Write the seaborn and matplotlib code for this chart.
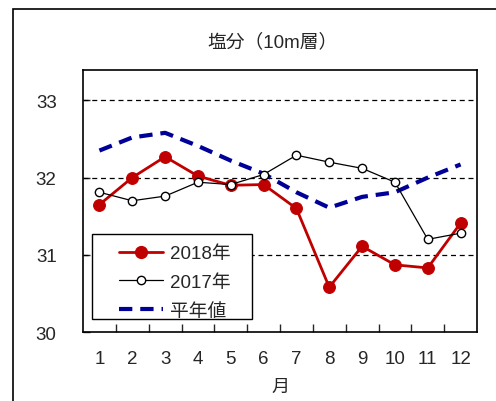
import numpy as np
import pandas as pd
import seaborn as sns
import matplotlib.pyplot as plt
from matplotlib.patches import Rectangle
from matplotlib.lines import Line2D

# data
months = list(range(1, 13))
month_labels = [str(m) for m in months]
salt_2018 = [31.65, 32.00, 32.27, 32.02, 31.90, 31.91, 31.60, 30.58, 31.11, 30.87, 30.83, 31.41]
salt_2017 = [31.81, 31.70, 31.76, 31.94, 31.91, 32.04, 32.29, 32.20, 32.12, 31.94, 31.20, 31.28]
salt_normal = [32.35, 32.52, 32.58, 32.41, 32.22, 32.05, 31.81, 31.61, 31.75, 31.81, 32.00, 32.17]
series_names = ['2018年', '2017年', '平年値']
y_ticks = [30, 31, 32, 33]

df = pd.DataFrame({'月': months, '2018年': salt_2018, '2017年': salt_2017, '平年値': salt_normal})

sns.set_style('white')
plt.rcParams['font.family'] = ['Liberation Sans', 'Noto Sans CJK JP']

fig = plt.figure(figsize=(4.96, 4.02), dpi=100)
ax = fig.add_axes([83 / 496, 1 - 333 / 402, 394 / 496, 262.5 / 402])

# outer frame (cut off at right and bottom in the reference)
fig.patches.append(Rectangle((13 / 496, -0.1), 2, (392 / 402) + 0.1, transform=fig.transFigure,
                             fill=False, lw=1.2, edgecolor='black'))

# dashed gridlines
for yv in [31, 32, 33]:
    ax.axhline(yv, color='black', lw=0.9, ls=(0, (4, 3)), zorder=1)

blue_dash = (0, (3.2, 1.9))
sns.lineplot(data=df, x='月', y='平年値', ax=ax, color='#000099', lw=3.0,
             linestyle=blue_dash, zorder=2)
sns.lineplot(data=df, x='月', y='2018年', ax=ax, color='#C00000', lw=2.0, marker='o',
             markersize=8.5, markeredgecolor='#C00000', zorder=3)
sns.lineplot(data=df, x='月', y='2017年', ax=ax, color='black', lw=0.9, marker='o',
             markersize=6.0, markerfacecolor='white', markeredgecolor='black',
             markeredgewidth=1.0, zorder=4)

ax.set_xlim(0.5, 12.5)
ax.set_ylim(30, 33.4)
ax.set_xticks(months)
ax.set_xticklabels(month_labels)
ax.set_xticks(np.arange(1.5, 12.5, 1), minor=True)
ax.set_yticks(y_ticks)
ax.tick_params(axis='x', which='major', length=0, pad=13, labelsize=13.5)
ax.tick_params(axis='x', which='minor', direction='in', length=6, width=1, bottom=True)
ax.tick_params(axis='y', direction='in', length=5, width=1, left=True, pad=19, labelsize=13.5)
ax.set_xlabel('月', fontsize=13, labelpad=8)
ax.set_ylabel('')
for s in ax.spines.values():
    s.set_color('black')
    s.set_linewidth(1.2)

fig.text(272 / 496, 1 - 42 / 402, '塩分（10m層）', ha='center', va='center', fontsize=13.5)

# legend box drawn separately so the left/right padding can follow the reference
ax.add_patch(Rectangle((0.0228, 0.0495), 0.406, 0.324, transform=ax.transAxes,
                       facecolor='white', edgecolor='black', lw=1.0, zorder=5))
handles = [
    Line2D([], [], color='#C00000', lw=2.0, marker='o', markersize=8.5, markeredgecolor='#C00000'),
    Line2D([], [], color='black', lw=0.9, marker='o', markersize=6.0, markerfacecolor='white',
           markeredgecolor='black'),
    Line2D([], [], color='#000099', lw=3.0, linestyle=blue_dash),
]
leg = ax.legend(handles, series_names, loc='upper left', bbox_to_anchor=(0.0914, 0.331),
                borderaxespad=0, frameon=False, fontsize=13.5, handlelength=2.35,
                handletextpad=0.37, labelspacing=0.62, borderpad=0)
leg.set_zorder(6)

fig.savefig('out.png', dpi=100)
